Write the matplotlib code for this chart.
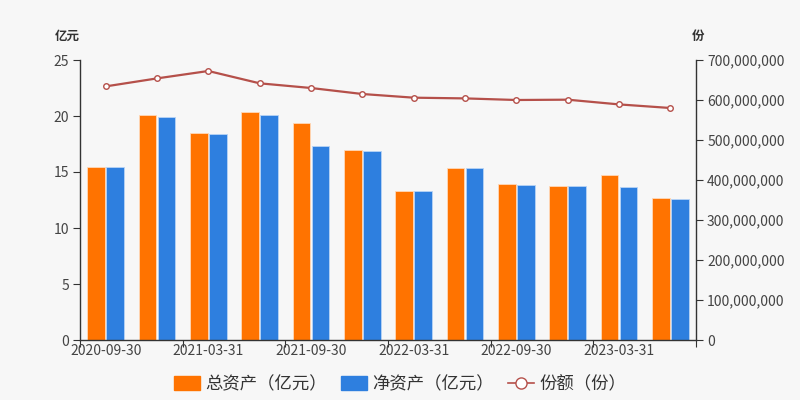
import numpy as np
import matplotlib
matplotlib.use("Agg")
import matplotlib.pyplot as plt
from matplotlib.patches import Patch
from matplotlib.lines import Line2D
from matplotlib.ticker import FuncFormatter

plt.rcParams['font.family'] = ['Noto Sans CJK SC', 'DejaVu Sans']

# 数据
dates = ['2020-09-30', '2020-12-31', '2021-03-31', '2021-06-30', '2021-09-30', '2021-12-31',
         '2022-03-31', '2022-06-30', '2022-09-30', '2022-12-31', '2023-03-31', '2023-06-30']
total_assets = [15.47, 20.12, 18.45, 20.36, 19.40, 16.93, 13.30, 15.39, 13.90, 13.75, 14.73, 12.65]
net_assets = [15.43, 19.91, 18.39, 20.06, 17.35, 16.90, 13.27, 15.35, 13.85, 13.72, 13.63, 12.56]
shares = [634e6, 654e6, 672.5e6, 641.7e6, 630e6, 615e6, 605.8e6, 604e6, 600e6, 600.8e6, 589e6, 580e6]

c_total = '#ff7300'
c_net = '#2e7fdf'
c_line = '#b5504a'
bg = '#f7f7f7'
txt = '#444444'

fig = plt.figure(figsize=(8, 4), dpi=100, facecolor=bg)
ax = fig.add_axes([0.1, 0.15, 0.77, 0.70], facecolor=bg)
ax2 = ax.twinx()

x = np.arange(len(dates))
w = 0.34
ax.bar(x - w / 2 - 0.015, total_assets, w, color=c_total, edgecolor='#ffd9b8', linewidth=0.6)
ax.bar(x + w / 2 + 0.015, net_assets, w, color=c_net, edgecolor='#b8d4f5', linewidth=0.6)
ax2.plot(x, shares, color=c_line, linewidth=1.6, marker='o', markersize=4,
         markerfacecolor='white', markeredgecolor=c_line, markeredgewidth=1)

ax.set_xlim(-0.5, len(dates) - 0.5)
ax.set_ylim(0, 25)
ax.set_yticks([0, 5, 10, 15, 20, 25])
ax2.set_ylim(0, 700e6)
ax2.set_yticks(np.arange(0, 700e6 + 1, 100e6))
ax2.yaxis.set_major_formatter(FuncFormatter(lambda v, p: f'{int(v):,}'))

# x 轴：刻度在边界，标签在类目中心
ax.set_xticks(np.arange(-0.5, len(dates), 2))
ax.set_xticklabels([])
ax.set_xticks(x[::2], minor=True)
ax.set_xticklabels([dates[i] for i in x[::2]], minor=True)
ax.tick_params(axis='x', which='minor', length=0, labelsize=10, colors=txt, pad=3)
ax.tick_params(axis='x', which='major', length=5, color='#333333')

for a in (ax, ax2):
    for s in a.spines.values():
        s.set_visible(False)
    a.tick_params(axis='y', labelsize=10, colors=txt, length=5, pad=3)
    a.tick_params(axis='y', color='#333333')
ax.spines['left'].set_visible(True)
ax.spines['bottom'].set_visible(True)
ax2.spines['right'].set_visible(True)
for s in (ax.spines['left'], ax.spines['bottom'], ax2.spines['right']):
    s.set_color('#333333')
    s.set_linewidth(1)

fig.text(0.1, 0.9, '亿元', fontsize=9, fontweight='bold', color='#333333', ha='right')
fig.text(0.872, 0.9, '份', fontsize=9, fontweight='bold', color='#333333', ha='center')

handles = [
    Patch(facecolor=c_total, edgecolor=c_total, label='总资产（亿元）'),
    Patch(facecolor=c_net, edgecolor=c_net, label='净资产（亿元）'),
    Line2D([0], [0], color=c_line, linewidth=1.2, marker='o', markersize=8,
           markerfacecolor='white', markeredgecolor=c_line, label='份额（份）'),
]
fig.legend(handles=handles, loc='center', bbox_to_anchor=(0.5, 0.04), ncol=3, frameon=False,
           fontsize=12.5, handlelength=1.5, handleheight=0.8, handletextpad=0.3, columnspacing=0.8,
           labelcolor='#333333')

fig.savefig('out.png', dpi=100, facecolor=bg)
